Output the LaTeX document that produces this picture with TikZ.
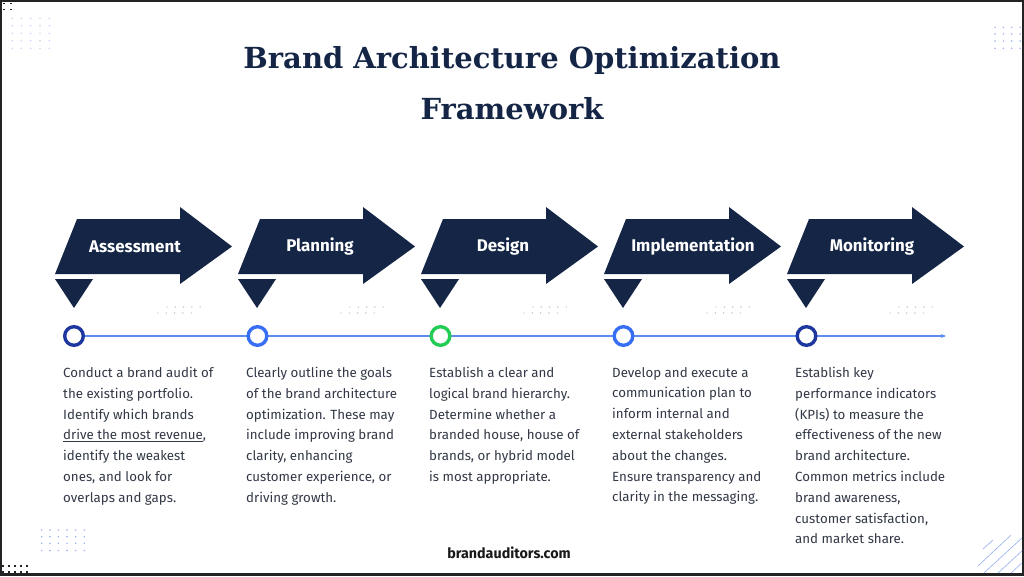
\documentclass[tikz,border=0pt]{standalone}
\usepackage{fontspec}
\setmainfont{Fira Sans}
\newfontfamily\titlefont{DejaVu Serif}
\usetikzlibrary{arrows.meta}
\definecolor{navy}{RGB}{20,37,70}
\definecolor{bodygray}{RGB}{50,56,70}
\definecolor{tline}{RGB}{95,140,240}
\definecolor{cdark}{RGB}{30,55,160}
\definecolor{cbright}{RGB}{55,110,245}
\definecolor{cgreen}{RGB}{35,205,85}
\definecolor{dotblue}{RGB}{150,175,240}
\definecolor{dotgray}{RGB}{175,180,190}
\definecolor{frame}{RGB}{35,35,38}
\tikzset{
  stagearrow/.style={fill=navy, draw=none},
  stagelabel/.style={text=white, font=\fontsize{16.9}{20}\selectfont\bfseries, inner sep=0},
  marker/.style={circle, fill=white, line width=3.4pt, minimum size=18.6pt, inner sep=0},
  bodytext/.style={anchor=north west, align=left, inner sep=0, text=bodygray,
    font=\fontsize{13.3}{20.8}\selectfont},
}
\begin{document}
\begin{tikzpicture}[x=1pt,y=-1pt]
\useasboundingbox (0,0) rectangle (1024,576);
% frame
\fill[frame] (0,0) rectangle (1024,576);
\fill[white] (2,2) rectangle (1022,573);

% title
\node[text=navy, font=\titlefont\fontsize{29}{51}\selectfont\bfseries, align=center, inner sep=0] (title) at (512,83) {Brand Architecture Optimization\\Framework};

% decorations
\foreach \x in {4,11} \foreach \y in {3.5,9.5} \fill[frame] (\x-0.9,\y-0.9) rectangle (\x+0.9,\y+0.9);
\foreach \x in {12.3,21.3,30.7,40,49.3} \foreach \y in {18.3,25.7,33.3,40.7,48.3} \fill[dotblue!60] (\x,\y) circle (0.8);
\foreach \x in {995,1003.3,1011.7,1020.2} \foreach \y in {27.3,34,41,48.3} \fill[dotblue] (\x,\y) circle (0.8);
\foreach \x in {41.7,50,58.3,67,75.7,84.3} \foreach \y in {530,536.7,543.3,550.5} \fill[dotblue] (\x,\y) circle (0.8);
\foreach \x in {2.7,8.7,14.7,20.7,26.7} \foreach \y in {566,571.7} \fill[frame] (\x-0.9,\y-0.9) rectangle (\x+0.9,\y+0.9);
\begin{scope}
\clip (2,2) rectangle (1022,573);
\draw[dotblue, line width=0.6pt] (983,549) -- (993,540);
\draw[dotblue, line width=0.6pt] (978,566) -- (1011,535);
\draw[dotblue, line width=0.6pt] (984,573) -- (1024,536);
\draw[dotblue, line width=0.6pt] (998,573) -- (1024,549);
\draw[dotblue, line width=0.6pt] (1011,573) -- (1024,561);
\end{scope}

% arrows
\foreach \xo/\lab/\lc [count=\i] in {55/Assessment/80,238/Planning/82,421/Design/82,604/Implementation/89,787/Monitoring/85}{
  \fill[stagearrow] (\xo+22,219) -- (\xo+125,219) -- (\xo+125,207) -- (\xo+177,246.5) -- (\xo+125,284) -- (\xo+125,274) -- (\xo,274) -- cycle;
  \node[stagelabel] (lab\i) at (\xo+\lc,246.5) {\lab};
  \fill[stagearrow] (\xo,279) -- (\xo+38,279) -- (\xo+19,308) -- cycle;
  \foreach \k in {0,...,4} {
    \fill[dotgray] (\xo+112+8.3*\k,307) circle (0.7);
    \fill[dotgray] (\xo+103+8.3*\k,313) circle (0.7);
  }
}

% timeline
\coordinate (tstart) at (74,336);
\coordinate (tend) at (946,336);
\draw[tline, line width=1.4pt, -{Stealth[length=5pt,width=4pt]}] (tstart) -- (tend);
\node[marker, draw=cdark] (c1) at (74,336) {};
\node[marker, draw=cbright] (c2) at (257.5,336) {};
\node[marker, draw=cgreen] (c3) at (440.5,336) {};
\node[marker, draw=cbright] (c4) at (623.5,336) {};
\node[marker, draw=cdark] (c5) at (806.5,336) {};

% texts
\node[bodytext] (t1) at (63,367) {Conduct a brand audit of\\the existing portfolio.\\Identify which brands\\\underline{drive the most revenue},\\identify the weakest\\ones, and look for\\overlaps and gaps.};
\node[bodytext] (t2) at (246,367) {Clearly outline the goals\\of the brand architecture\\optimization. These may\\include improving brand\\clarity, enhancing\\customer experience, or\\driving growth.};
\node[bodytext] (t3) at (429,367) {Establish a clear and\\logical brand hierarchy.\\Determine whether a\\branded house, house of\\brands, or hybrid model\\is most appropriate.};
\node[bodytext] (t4) at (612,367) {Develop and execute a\\communication plan to\\inform internal and\\external stakeholders\\about the changes.\\Ensure transparency and\\clarity in the messaging.};
\node[bodytext] (t5) at (795,367) {Establish key\\performance indicators\\(KPIs) to measure the\\effectiveness of the new\\brand architecture.\\Common metrics include\\brand awareness,\\customer satisfaction,\\and market share.};

% footer
\node[text=black!90, font=\fontsize{14.3}{17}\selectfont\bfseries, inner sep=0] (footer) at (509,553) {brandauditors.com};
\end{tikzpicture}
\end{document}
